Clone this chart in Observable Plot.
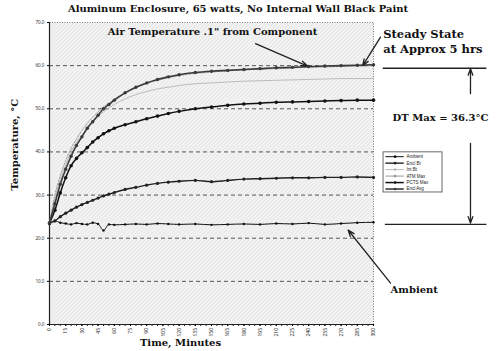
<!DOCTYPE html>
<html>
<head>
<meta charset="utf-8">
<script src="https://cdn.jsdelivr.net/npm/d3@7"></script>
<script src="https://cdn.jsdelivr.net/npm/@observablehq/plot@0.6"></script>
<style>
  body { margin: 0; background: #fff; }
  #wrap { position: relative; width: 500px; height: 351px; }
  #title { position: absolute; top: 3px; left: 0; width: 476px; text-align: center;
    font: bold 10px "DejaVu Serif", serif; color: #111; white-space: nowrap; }
  #chart { position: absolute; top: 0; left: 0; }
</style>
</head>
<body>
<div id="wrap">
  <div id="title">Aluminum Enclosure, 65 watts, No Internal Wall Black Paint</div>
  <div id="chart"></div>
</div>
<script>
// ---- data ----
const times = [0,5,10,15,20,25,30,35,40,45,50,55,60,70,80,90,100,110,120,135,150,165,180,195,210,225,240,255,270,285,300];
const ambient  = [23.3,24.0,23.6,23.4,23.2,23.5,23.3,23.2,23.6,23.3,21.8,23.2,23.1,23.2,23.3,23.2,23.4,23.3,23.2,23.3,23.1,23.2,23.3,23.2,23.4,23.3,23.5,23.2,23.4,23.6,23.7];
const enclBt   = [23.5,24.0,25.0,25.8,26.5,27.2,27.8,28.3,28.8,29.3,29.8,30.2,30.6,31.3,31.8,32.3,32.7,33.0,33.2,33.4,33.1,33.4,33.7,33.8,33.9,34.0,34.0,34.1,34.1,34.2,34.1];
const intBt    = [23.5,29.0,33.5,37.0,40.0,42.3,44.0,45.5,47.0,48.2,49.3,50.2,51.0,52.3,53.3,54.0,54.6,55.0,55.4,55.8,56.0,56.2,56.4,56.5,56.6,56.7,56.8,56.9,57.0,57.0,57.0];
const atmMax   = [23.5,30.0,34.5,38.0,40.8,43.0,45.0,46.6,48.0,49.3,50.4,51.3,52.2,53.7,54.9,55.9,56.6,57.2,57.7,58.2,58.5,58.8,59.0,59.2,59.3,59.5,59.6,59.7,59.8,59.9,60.0];
const pctsMax  = [23.5,26.5,30.5,34.0,36.8,38.5,39.8,41.0,42.3,43.3,44.2,44.9,45.5,46.3,47.0,47.7,48.3,48.9,49.4,50.0,50.4,50.8,51.1,51.3,51.5,51.6,51.7,51.8,51.9,52.0,52.0];
const enclAvg  = [23.5,28.0,32.5,36.0,39.0,41.5,43.5,45.5,47.0,48.5,50.0,51.0,52.0,53.7,55.0,56.0,56.8,57.4,57.9,58.4,58.7,58.9,59.1,59.3,59.5,59.6,59.8,59.9,60.0,60.1,60.2];

const seriesNames = ["Ambient","Encl Bt","Int Bt","ATM Max","PCTS Max","Encl Avg"];
const seriesValues = [ambient, enclBt, intBt, atmMax, pctsMax, enclAvg];
const seriesStroke = ["#111","#222","#bbb","#999","#111","#3a3a3a"];
const seriesWidth  = [1, 1.4, 1, 1, 1.5, 1.6];
const seriesDash   = [null, null, null, "2,1.5", null, null];
const seriesDotR   = [1.2, 1.6, 0, 0, 1.8, 1.7];

const yTicks = [0,10,20,30,40,50,60,70];
const gridY  = [10,20,30,40,50,60];
const xTicks = d3.range(0, 301, 15);
const xMinor = d3.range(0, 301, 5);

// annotation positions (data units)
const airLabel   = {x: 151, y: 67.9, text: "Air Temperature .1\" from Component"};
const steadyLbl  = [{x: 309, y: 67.2, text: "Steady State"}, {x: 309, y: 63.7, text: "at Approx 5 hrs"}];
const dtLabel    = {x: 362, y: 48.0, text: "DT Max = 36.3°C"};
const ambLabel   = {x: 315.8, y: 8.0, text: "Ambient"};
const arrows = [
  {x1: 190.8, y1: 65.1, x2: 238.9, y2: 59.9},
  {x1: 306.5, y1: 66.6, x2: 290.0, y2: 60.0},
  {x1: 389.8, y1: 53.5, x2: 389.8, y2: 59.3},
  {x1: 389.8, y1: 42.0, x2: 389.8, y2: 23.5},
  {x1: 315.8, y1: 9.6,  x2: 276.5, y2: 21.9}
];
const hLines = [{x1: 309, x2: 405, y: 59.4}, {x1: 311, x2: 405, y: 23.2}];
const legendBox = {x1: 309.3, x2: 363.9, y1: 30.6, y2: 39.9};
const legendRowsY = [38.9, 37.4, 35.9, 34.4, 32.9, 31.4];
const legendLineX = [311.5, 328.5];
const legendTextX = 330.5;

// ---- build table ----
const rows = [];
seriesNames.forEach((s, i) => times.forEach((t, j) => rows.push({series: s, idx: i, t, v: seriesValues[i][j]})));
const legendRows = seriesNames.map((s, i) => ({series: s, idx: i, y: legendRowsY[i]}));

const serif = "DejaVu Serif, serif";
const fs = 10;
const marks = [
  Plot.frame({fill: "url(#hatch)"}),
  Plot.ruleY(gridY, {stroke: "#111", strokeWidth: 0.7, strokeDasharray: "4,3"}),
  Plot.frame({stroke: "#777", strokeDasharray: "1,1.5"}),
  Plot.ruleX([0], {stroke: "#222", strokeWidth: 1.2}),
  Plot.ruleY([0], {stroke: "#222", strokeWidth: 1.2}),
  Plot.axisY({ticks: yTicks, tickFormat: d => d.toFixed(1), fontSize: 4.6, tickSize: 2, tickPadding: 3, label: null, fill: "#333"}),
  Plot.axisX({ticks: xMinor, tickFormat: () => "", tickSize: 2, label: null, stroke: "#222"}),
  Plot.axisX({ticks: xTicks, tickFormat: d => String(d), tickRotate: -90, fontSize: 5, tickSize: 2, tickPadding: 1.5, label: null, fill: "#222"})
];
seriesNames.forEach((s, i) => {
  const data = rows.filter(r => r.idx === i);
  marks.push(Plot.line(data, {x: "t", y: "v", stroke: seriesStroke[i], strokeWidth: seriesWidth[i], strokeDasharray: seriesDash[i] || undefined, curve: "monotone-x"}));
  if (seriesDotR[i] > 0) marks.push(Plot.dot(data, {x: "t", y: "v", r: seriesDotR[i], fill: seriesStroke[i], stroke: "none"}));
});
// annotations
marks.push(
  Plot.text([airLabel], {x: "x", y: "y", text: "text", fontFamily: serif, fontWeight: "bold", fontSize: fs, fill: "#111"}),
  Plot.text(steadyLbl, {x: "x", y: "y", text: "text", textAnchor: "start", fontFamily: serif, fontWeight: "bold", fontSize: 11.5, fill: "#111"}),
  Plot.text([dtLabel], {x: "x", y: "y", text: "text", fontFamily: serif, fontWeight: "bold", fontSize: fs, fill: "#111"}),
  Plot.text([ambLabel], {x: "x", y: "y", text: "text", textAnchor: "start", fontFamily: serif, fontWeight: "bold", fontSize: fs, fill: "#111"}),
  Plot.ruleY(hLines, {x1: "x1", x2: "x2", y: "y", stroke: "#222", strokeWidth: 1.3}),
  Plot.arrow(arrows, {x1: "x1", y1: "y1", x2: "x2", y2: "y2", stroke: "#222", strokeWidth: 1.3, headLength: 8, headAngle: 40}),
  Plot.rect([legendBox], {x1: "x1", x2: "x2", y1: "y1", y2: "y2", fill: "#fff", stroke: "#444", strokeWidth: 0.8}),
  Plot.ruleY(legendRows, {y: "y", x1: legendLineX[0], x2: legendLineX[1], stroke: d => seriesStroke[d.idx], strokeWidth: d => seriesWidth[d.idx]}),
  Plot.dot(legendRows, {y: "y", x: (legendLineX[0] + legendLineX[1]) / 2, r: 1.3, fill: d => seriesStroke[d.idx], stroke: "none"}),
  Plot.text(legendRows, {y: "y", x: legendTextX, text: "series", textAnchor: "start", fontSize: 4.5, fill: "#222", fontFamily: "Liberation Sans, sans-serif"}),
  Plot.text(["Temperature, °C"], {frameAnchor: "left", rotate: -90, dx: -35, dy: 17, fontFamily: serif, fontWeight: "bold", fontSize: fs, fill: "#111"}),
  Plot.text(["Time, Minutes"], {frameAnchor: "bottom", lineAnchor: "middle", dx: -31, dy: 18, fontFamily: serif, fontWeight: "bold", fontSize: fs, fill: "#111"})
);

const chart = Plot.plot({
  width: 500, height: 351,
  marginLeft: 49, marginRight: 127, marginTop: 22, marginBottom: 27,
  x: {domain: [0, 300]},
  y: {domain: [0, 70]},
  color: {type: "identity"},
  style: {background: "transparent", overflow: "visible"},
  marks
});
chart.insertAdjacentHTML("afterbegin",
  '<defs><pattern id="hatch" width="4" height="4" patternUnits="userSpaceOnUse">' +
  '<rect width="4" height="4" fill="#f5f5f5"/>' +
  '<path d="M-1,1 L1,-1 M0,4 L4,0 M3,5 L5,3" stroke="#cacaca" stroke-width="0.6"/>' +
  '</pattern></defs>');
document.getElementById("chart").appendChild(chart);
</script>
</body>
</html>
